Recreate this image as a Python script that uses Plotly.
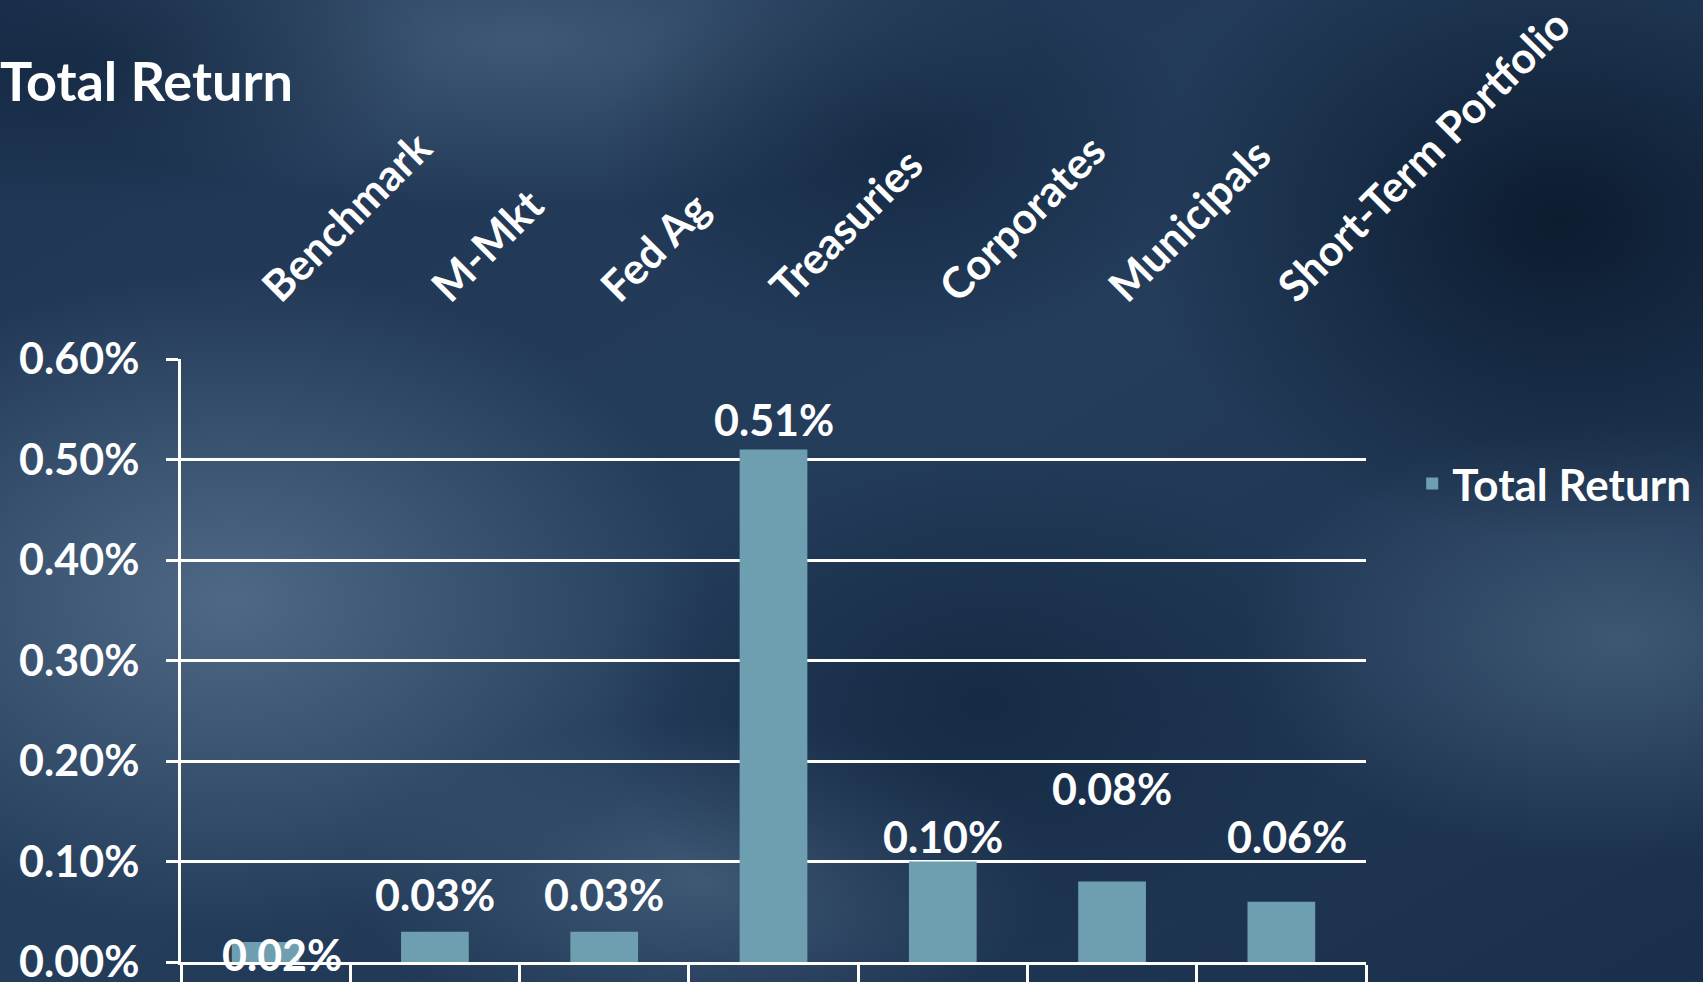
import base64
import plotly.graph_objects as go

# ---- data ----
categories = ["Benchmark", "M-Mkt", "Fed Ag", "Treasuries", "Corporates", "Municipals", "Short-Term Portfolio"]
total_return = [0.0002, 0.0003, 0.0003, 0.0051, 0.0010, 0.0008, 0.0006]
label_text = ["0.02%", "0.03%", "0.03%", "0.51%", "0.10%", "0.08%", "0.06%"]
series_name = "Total Return"
y_ticks = [0.0, 0.001, 0.002, 0.003, 0.004, 0.005, 0.006]

# ---- styling ----
W, H = 1703, 982
ML, MR, MT, MB = 181, 337, 359, 20
BAR = "#6e9fb0"
FONT = "Lato"
label_yshift = [-13, 37, 37, 30, 25, 93, 65]  # manual label offsets as in the slide
label_xshift = [16, 0, 0, 0, 0, 0, 6]

svg = f'''<svg xmlns="http://www.w3.org/2000/svg" width="{W}" height="{H}" viewBox="0 0 {W} {H}">
<defs>
<linearGradient id="base" x1="0" y1="0" x2="1" y2="1">
<stop offset="0" stop-color="#1f3654"/><stop offset="0.5" stop-color="#243d5b"/><stop offset="1" stop-color="#1a2f4b"/>
</linearGradient>
<radialGradient id="lt"><stop offset="0" stop-color="#56718d" stop-opacity="0.85"/><stop offset="1" stop-color="#56718d" stop-opacity="0"/></radialGradient>
<radialGradient id="lt2"><stop offset="0" stop-color="#4b6682" stop-opacity="0.7"/><stop offset="1" stop-color="#4b6682" stop-opacity="0"/></radialGradient>
<radialGradient id="dk"><stop offset="0" stop-color="#081629" stop-opacity="0.85"/><stop offset="1" stop-color="#081629" stop-opacity="0"/></radialGradient>
<radialGradient id="dk2"><stop offset="0" stop-color="#0e2038" stop-opacity="0.6"/><stop offset="1" stop-color="#0e2038" stop-opacity="0"/></radialGradient>
</defs>
<rect width="{W}" height="{H}" fill="url(#base)"/>
<ellipse cx="230" cy="600" rx="480" ry="330" fill="url(#lt)"/>
<ellipse cx="520" cy="40" rx="520" ry="170" fill="url(#lt2)"/>
<ellipse cx="1620" cy="640" rx="380" ry="220" fill="url(#lt2)"/>
<ellipse cx="700" cy="880" rx="350" ry="160" fill="url(#lt2)"/>
<ellipse cx="1560" cy="220" rx="420" ry="320" fill="url(#dk)"/>
<ellipse cx="980" cy="700" rx="380" ry="260" fill="url(#dk2)"/>
<ellipse cx="80" cy="60" rx="350" ry="150" fill="url(#dk2)"/>
<ellipse cx="900" cy="150" rx="300" ry="200" fill="url(#dk2)"/>
</svg>'''
bg_uri = "data:image/svg+xml;base64," + base64.b64encode(svg.encode()).decode()

pw, ph = W - ML - MR, H - MT - MB

fig = go.Figure()
fig.add_trace(go.Bar(
    x=categories, y=total_return, name=series_name,
    marker=dict(color=BAR, line=dict(width=0)),
    hoverinfo="x+y",
))
# carrier trace for the top category axis labels
fig.add_trace(go.Scatter(
    x=categories, y=total_return, xaxis="x2", mode="markers",
    marker=dict(opacity=0), showlegend=False, hoverinfo="skip",
))

for c, v, t, s, xs in zip(categories, total_return, label_text, label_yshift, label_xshift):
    fig.add_annotation(x=c, y=v, text=t, showarrow=False, yshift=s, xshift=xs,
                       xanchor="center", yanchor="middle",
                       font=dict(family=FONT, size=43, color="white", weight="bold"))

fig.update_layout(
    width=W, height=H,
    margin=dict(l=ML, r=MR, t=MT, b=MB, autoexpand=False),
    paper_bgcolor="#1f3654",
    plot_bgcolor="rgba(0,0,0,0)",
    bargap=0.6,
    title=dict(text="Total Return", x=0, xref="container", xanchor="left",
               y=1 - 82 / H, yref="container", yanchor="middle",
               font=dict(family=FONT, size=54, color="white", weight="bold")),
    legend=dict(x=1.039, y=0.793, xanchor="left", yanchor="middle",
                bgcolor="rgba(0,0,0,0)",
                font=dict(family=FONT, size=44, color="white", weight="bold")),
    showlegend=True,
    images=[dict(source=bg_uri, xref="paper", yref="paper",
                 x=-ML / pw, y=1 + MT / ph, sizex=W / pw, sizey=H / ph,
                 xanchor="left", yanchor="top", sizing="stretch", layer="below")],
    xaxis=dict(type="category", categoryorder="array", categoryarray=categories,
               range=[-0.5, len(categories) - 0.5],
               showticklabels=False, ticks="outside", tickson="boundaries",
               ticklen=20, tickwidth=3, tickcolor="white",
               showline=True, linecolor="white", linewidth=3, showgrid=False,
               zeroline=False),
    xaxis2=dict(type="category", categoryorder="array", categoryarray=categories,
                range=[-0.5, len(categories) - 0.5], overlaying="x", side="top",
                anchor="y", tickangle=-45, ticks="outside", ticklen=30,
                tickcolor="rgba(0,0,0,0)", showline=False, showgrid=False,
                zeroline=False,
                tickfont=dict(family=FONT, size=43, color="white", weight="bold")),
    yaxis=dict(range=[0, 0.006], tickvals=y_ticks, tickformat=".2%",
               showgrid=True, gridcolor="white", gridwidth=3,
               showline=True, linecolor="white", linewidth=3,
               ticks="outside", ticklen=12, tickwidth=3, tickcolor="white",
               ticklabelstandoff=18, ticklabeloverflow="allow", zeroline=False,
               tickfont=dict(family=FONT, size=43, color="white", weight="bold")),
)

fig.write_html("out.html", config={"displayModeBar": False},
               post_script="document.body.style.margin='0';document.body.style.padding='0';document.body.style.overflow='hidden';")
